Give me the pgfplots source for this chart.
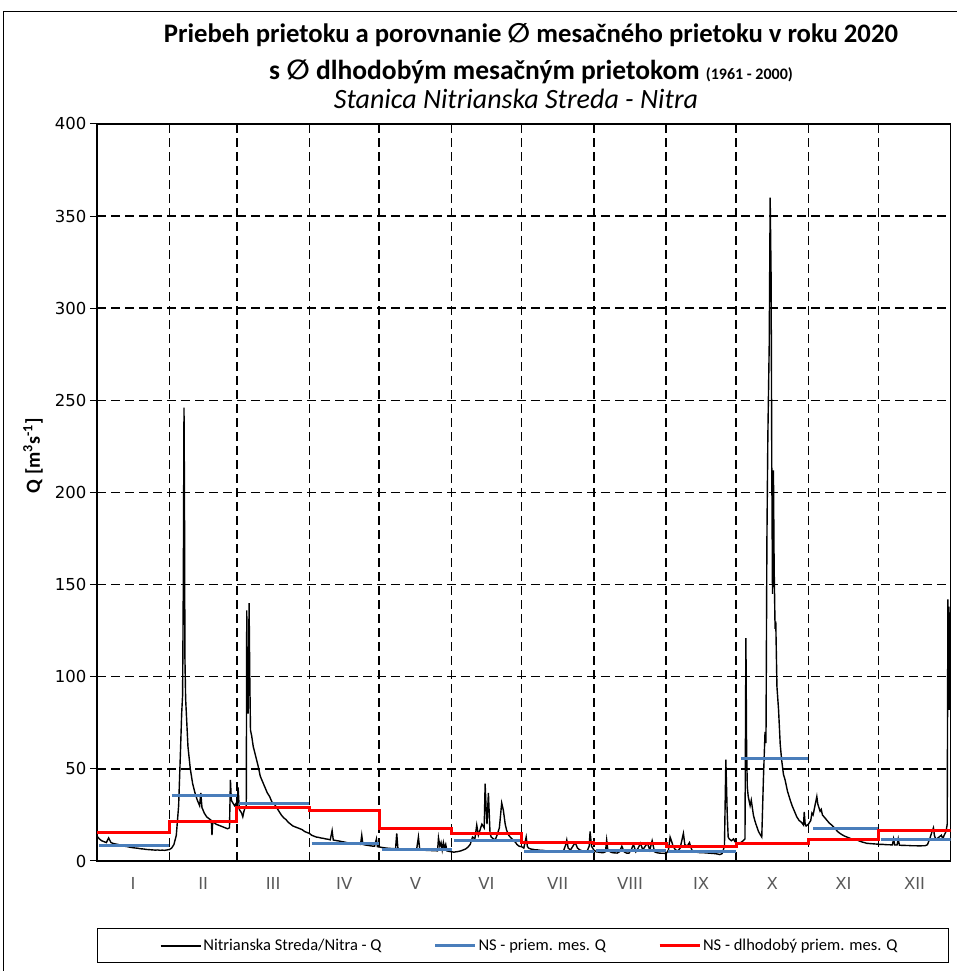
\documentclass[border=0pt]{standalone}
\usepackage{pgfplots}
\pgfplotsset{compat=1.18}
\usepackage{fontspec}
\setmainfont{Carlito}
\newfontfamily\dejavu{DejaVu Sans}
\definecolor{nsblue}{RGB}{74,126,187}
\definecolor{monthgray}{RGB}{89,89,89}

\begin{document}
\begin{tikzpicture}
\path[use as bounding box] (0,0) rectangle (956pt,971pt);
\draw[line width=1pt] (3pt,-5pt) rectangle (962pt,959pt);

\begin{axis}[
    scale only axis,
    width=853.7pt, height=737pt,
    at={(97pt,110pt)}, anchor=south west,
    xmin=0, xmax=366, ymin=0, ymax=400,
    axis line style={line width=1.2pt},
    ytick={0,50,...,400},
    ytick pos=left, ytick align=outside,
    major tick length=7pt,
    y tick style={line width=1pt, black},
    xtick={0,31,60,91,121,152,182,213,244,274,305,335,366},
    xticklabels={},
    x tick style={draw=none},
    xmajorgrids, ymajorgrids,
    grid style={black, line width=1.5pt, dash pattern=on 9pt off 5pt},
    extra x ticks={15.5,45.5,75.5,106,136.5,167,197.5,228.5,259,289.5,320,350.5},
    extra x tick labels={I,II,III,IV,V,VI,VII,VIII,IX,X,XI,XII},
    extra x tick style={grid=none, major tick length=0pt,
        tick label style={yshift=-13pt, text=monthgray}},
    tick label style={font=\dejavu\fontsize{16.5}{18}\selectfont},
    /pgf/number format/assume math mode=true,
    ylabel={\textbf{Q [m\textsuperscript{3}s\textsuperscript{-1}]}},
    ylabel style={font=\fontsize{20}{22}\selectfont, anchor=center,
        at={(axis description cs:-0.075,0.55)}},
    legend columns=3,
    legend style={draw=none, fill=none, at={(axis description cs:0.507,-0.1153)}, anchor=center,
        font=\fontsize{16.5}{18}\selectfont},
    legend image code/.code={\draw[#1] (0pt,0pt) -- (40pt,0pt);},
    /tikz/every even column/.append style={column sep=50pt},
]
% daily flow Q
\addplot[black, line width=1.4pt] coordinates {
(0,13.5) (1,12) (2,11) (3,10.5) (4,10) (5,12.5) (6,10) (7,9.5) (8,9.2) (9,9) (10,8.6)
(11,8.3) (12,8) (13,7.8) (14,7.5) (15,7.3) (16,7.1) (17,7) (18,6.8) (19,6.6) (20,6.5)
(21,6.3) (22,6.2) (23,6.1) (24,6) (25,5.9) (26,6) (27,5.8) (28,5.9) (29,5.8) (30,6) (31,6.2)
(32,7) (33,9) (34,14) (35,30) (35.8,60) (36.3,80) (36.7,90) (37,150) (37.3,246) (37.5,200)
(37.7,110) (38,88) (38.5,75) (39,62) (40,50) (41,42) (42,37) (43,33) (44,30) (44.5,37)
(45,29) (46,26) (47,24) (48,23) (49,22) (49.3,14) (49.6,21) (50,21) (51,20) (52,19.5)
(53,19) (54,18.5) (55,18) (56,17.5) (56.8,18) (57.2,44) (57.6,33) (58,32) (59,30) (59.5,31)
(60,29) (60.5,40) (61,28) (62,26) (62.5,24) (63,27) (63.5,29)
(64,30) (64.2,136) (64.5,90) (64.8,80) (65.2,140) (65.5,100) (65.8,71) (66.3,68) (67,62)
(68,57) (69,52) (70,46) (71,43) (72,40) (73,37) (74,35) (75,32) (76,31) (77,29) (78,27)
(79,25) (80,23.5) (81,22.5) (82,21) (83,20) (84,19) (85,18.5) (86,18) (87,17.5) (88,17)
(89,16) (90,15.5) (91,15)
(92,14) (93,13.5) (94,13) (95,12.8) (96,12.5) (97,12.3) (98,12) (99,11.8) (100,11.5)
(100.8,16.5) (101.3,11.4) (102,11.2) (103,11) (104,10.8) (105,10.5) (106,10.3) (107,10)
(108,9.8) (109,9.6) (110,9.5) (111,9.3) (112,9.2) (113,9) (113.5,14) (114,9) (115,8.7)
(116,8.5) (117,8.3) (118,8.1) (119,8) (119.8,12) (120.2,7.8) (121,7.6)
(122,7.4) (123,7.2) (124,7) (125,6.9) (126,6.8) (127,6.7) (128,6.6) (128.5,15) (129,6.8)
(130,6.5) (131,6.4) (132,6.3) (133,6.3) (134,6.2) (135,6.1) (136,6) (137,6) (137.8,13)
(138.3,7) (139,6) (140,5.9) (141,5.8) (142,5.8) (143,5.7) (144,5.6) (145,5.6) (146,5.5)
(146.4,12.6) (147,8) (147.5,10) (148,6) (148.5,10) (149,7) (149.5,9) (150,5.5) (151,5.2) (152,5)
(153,4.8) (154,5) (155,5.2) (156,5.5) (157,6) (158,6.5) (159,7.5) (160,9) (161,13) (162,12)
(162.8,19.5) (163.5,14) (164,16) (165,20) (166,18) (166.4,42) (166.8,29) (167.2,20) (167.8,37)
(168.5,15) (169,13) (170,12) (170.7,11.4) (171.5,14) (172.5,18) (173.5,31.5) (174.2,27.6)
(175,20) (175.6,16.8) (176.5,14) (177.5,12.5) (178.5,11.4) (179.5,10) (180,9) (181,8) (182,7.8)
(183,7) (184,13) (184.5,8) (185,7) (186,6.5) (187,6.3) (188,6) (189,6) (190,5.8) (191,5.8)
(192,5.6) (193,5.5) (194,5.5) (195,5.4) (196,5.4) (197,5.3) (198,5.2) (199,5.2) (200,5.5)
(201,9) (201.4,11.4) (202,7) (203,6) (204,8) (205,10) (206,7) (207,6) (208,5.5) (209,5.2)
(210,5) (211,8) (211.4,16) (212,8) (213,6)
(214,5) (215,4.8) (216,4.6) (217,4.5) (218,5) (218.5,11.4) (219,6) (220,5) (221,4.5) (222,4.4)
(223,4.3) (224,5) (225,8) (226,5) (227,4.3) (228,4.2) (229,6) (230,9) (231,5) (232,7) (233,9.6)
(234,6) (235,8) (236,9.6) (237,6) (238,11) (239,5) (240,4.5) (241,4.3) (242,4.2) (243,4.2) (244,4)
(245,6) (245.7,13) (246.5,10) (247,8) (248,6) (249,5.5) (250,7) (251.4,15) (252,9) (253,8)
(254,10) (255,6) (256,5) (257,4.8) (258,4.6) (259,4.5) (260,4.5) (261,4.4) (262,4.3) (263,4.2)
(264,4.1) (265,4) (266,3.8) (267,3.5) (268,4) (269,8) (269.6,55) (270.2,25) (270.6,13) (271,12)
(272,11) (272.9,12) (273.5,10.5) (274,10)
(275,9.8) (276,10) (277,11) (277.8,12) (278.2,121) (278.5,60) (278.8,40) (279.2,35) (280,30)
(280.5,33) (281.4,25) (282,22) (282.5,20) (283.6,16) (284.5,14) (285,13) (285.7,44.5) (286.4,70)
(286.8,64) (287.2,174) (287.6,230) (288.2,281) (288.6,360) (289,317) (289.3,212) (289.6,145)
(290,212) (290.3,160) (290.7,126) (291,130) (291.5,94.7) (292.2,82) (292.9,63.5) (293.5,55)
(294.3,47) (295,44) (296,38) (297.2,33) (298,30) (299,27) (300,24) (301,22) (302,21) (302.9,19.5)
(303.2,26.6) (303.6,20) (304,19) (305,20)
(306,22) (306.5,26) (307,25) (307.8,30) (308.6,35) (309,31) (309.5,29) (310,27) (310.5,28)
(311,25) (312,23.5) (313,22) (314,20.5) (315,19.5) (315.7,18.6) (316.5,17.5) (317.5,16)
(318.5,15) (319.5,14.2) (320.5,13.5) (321.5,13) (322.5,12.5) (323.5,12) (324.5,11.7)
(325.8,11.4) (327,10.8) (328,10.3) (329,10) (330,9.6) (331,9.5) (332,9.4) (333,9.3) (334,9.2) (335,9.1)
(336,9) (337,9) (338,8.9) (339,8.8) (340,8.8) (341,8.7) (341.5,12) (342,8.7) (343,8.7) (343.5,12)
(344,8.6) (345,8.5) (346,8.5) (347,8.4) (348,8.4) (349,8.3) (350,8.3) (351,8.3) (352,8.2)
(353,8.2) (354,8.3) (355,8.3) (356,8.8) (357,12) (358,16) (358.6,18) (359,14) (359.5,12)
(360,12) (361,13) (362,14) (362.6,12) (363.2,14) (364,16) (364.5,20) (364.8,142) (365,85)
(365.2,138) (365.4,82) (365.6,135) (365.8,90) (366,130)
};
\addlegendentry{Nitrianska Streda/Nitra - Q}
% monthly mean 2020
\addplot[nsblue, line width=3pt, unbounded coords=jump] coordinates {
(1,8.3) (31,8.3) (31,nan)
(32,35.4) (60,35.4) (60,nan)
(61,31) (91,31) (91,nan)
(92,9.6) (121,9.6) (121,nan)
(122,6.5) (152,6.5) (152,nan)
(153,11.2) (182,11.2) (182,nan)
(183,5.3) (213,5.3) (213,nan)
(214,5.8) (244,5.8) (244,nan)
(245,5) (274,5) (274,nan)
(276,55.5) (305,55.5) (305,nan)
(307,17.4) (335,17.4) (335,nan)
(336,11.9) (366,11.9)
};
\addlegendentry{NS - priem. mes. Q}
% long-term monthly mean 1961-2000
\addplot[red, line width=3pt, const plot] coordinates {
(0,15.6) (31,21.7) (60,29.3) (91,27.3) (121,17.4) (152,14.8) (182,10.3) (213,9.4)
(244,7.6) (274,9.4) (305,11.9) (335,16.5) (366,16.5)
};
\addlegendentry{NS - dlhodobý priem. mes. Q}
\end{axis}

\draw[line width=1pt] (97pt,8pt) rectangle (948pt,42pt);

\node[font=\bfseries\fontsize{26.7}{30}\selectfont] at (531pt,936pt)
  {Priebeh prietoku a porovnanie {\dejavu ∅} mesačného prietoku v roku 2020};
\node[font=\bfseries\fontsize{27.5}{30}\selectfont] at (531pt,899pt)
  {s {\dejavu ∅} dlhodobým mesačným prietokom {\fontsize{16}{18}\selectfont (1961 - 2000)}};
\node[font=\itshape\fontsize{28}{30}\selectfont] at (516pt,872pt)
  {Stanica Nitrianska Streda - Nitra};
\end{tikzpicture}
\end{document}
